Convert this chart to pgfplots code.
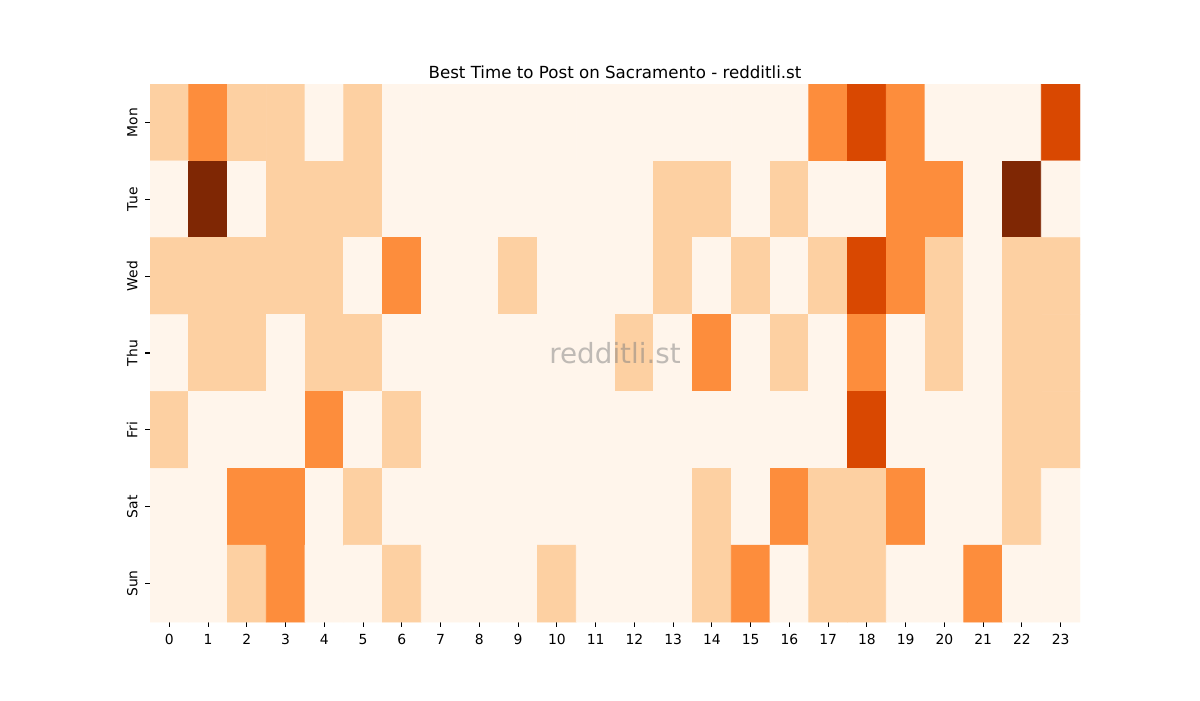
\documentclass[border=0pt]{standalone}
\usepackage{pgfplots}
\pgfplotsset{compat=1.18}
\usepackage{fontspec}
\setmainfont{DejaVu Sans}

% heat levels: 0 = none ... 4 = most
\pgfplotstableread{
x y c
0 0 1
1 0 2
2 0 1
3 0 1
4 0 0
5 0 1
6 0 0
7 0 0
8 0 0
9 0 0
10 0 0
11 0 0
12 0 0
13 0 0
14 0 0
15 0 0
16 0 0
17 0 2
18 0 3
19 0 2
20 0 0
21 0 0
22 0 0
23 0 3
0 1 0
1 1 4
2 1 0
3 1 1
4 1 1
5 1 1
6 1 0
7 1 0
8 1 0
9 1 0
10 1 0
11 1 0
12 1 0
13 1 1
14 1 1
15 1 0
16 1 1
17 1 0
18 1 0
19 1 2
20 1 2
21 1 0
22 1 4
23 1 0
0 2 1
1 2 1
2 2 1
3 2 1
4 2 1
5 2 0
6 2 2
7 2 0
8 2 0
9 2 1
10 2 0
11 2 0
12 2 0
13 2 1
14 2 0
15 2 1
16 2 0
17 2 1
18 2 3
19 2 2
20 2 1
21 2 0
22 2 1
23 2 1
0 3 0
1 3 1
2 3 1
3 3 0
4 3 1
5 3 1
6 3 0
7 3 0
8 3 0
9 3 0
10 3 0
11 3 0
12 3 1
13 3 0
14 3 2
15 3 0
16 3 1
17 3 0
18 3 2
19 3 0
20 3 1
21 3 0
22 3 1
23 3 1
0 4 1
1 4 0
2 4 0
3 4 0
4 4 2
5 4 0
6 4 1
7 4 0
8 4 0
9 4 0
10 4 0
11 4 0
12 4 0
13 4 0
14 4 0
15 4 0
16 4 0
17 4 0
18 4 3
19 4 0
20 4 0
21 4 0
22 4 1
23 4 1
0 5 0
1 5 0
2 5 2
3 5 2
4 5 0
5 5 1
6 5 0
7 5 0
8 5 0
9 5 0
10 5 0
11 5 0
12 5 0
13 5 0
14 5 1
15 5 0
16 5 2
17 5 1
18 5 1
19 5 2
20 5 0
21 5 0
22 5 1
23 5 0
0 6 0
1 6 0
2 6 1
3 6 2
4 6 0
5 6 0
6 6 1
7 6 0
8 6 0
9 6 0
10 6 1
11 6 0
12 6 0
13 6 0
14 6 1
15 6 2
16 6 0
17 6 1
18 6 1
19 6 0
20 6 0
21 6 2
22 6 0
23 6 0
}\heat

\begin{document}
\begin{tikzpicture}
\useasboundingbox (0,0) rectangle (864pt,504pt);
\begin{axis}[
    at={(108pt,56.16pt)}, anchor=south west,
    scale only axis,
    width=669.6pt, height=387.36pt,
    xmin=-0.5, xmax=23.5, ymin=-0.5, ymax=6.5,
    y dir=reverse,
    axis line style={draw=none},
    tick align=outside,
    major tick length=3.5pt,
    every tick/.style={black, line width=0.8pt},
    xtick={0,...,23},
    ytick={0,...,6},
    yticklabels={Mon,Tue,Wed,Thu,Fri,Sat,Sun},
    xtick pos=bottom, ytick pos=left,
    yticklabel style={rotate=90, anchor=south},
    xticklabel shift=2pt, yticklabel shift=2pt,
    tick label style={font=\fontsize{10}{12}\selectfont},
    /pgf/number format/assume math mode=true,
    title={Best Time to Post on Sacramento - redditli.st},
    title style={font=\fontsize{12}{14}\selectfont, yshift=-5.5pt},
    colormap={oranges}{rgb255=(255,245,235) rgb255=(253,208,162) rgb255=(253,141,60) rgb255=(217,72,1) rgb255=(127,39,4)},
    point meta min=0, point meta max=4,
]
\addplot[matrix plot*, mesh/cols=24, point meta=explicit] table[x=x, y=y, meta=c] {\heat};
\node[text=gray, opacity=0.5, font=\fontsize{20}{24}\selectfont] at (axis cs:11.5,3) {redditli.st};
\end{axis}
\end{tikzpicture}
\end{document}
